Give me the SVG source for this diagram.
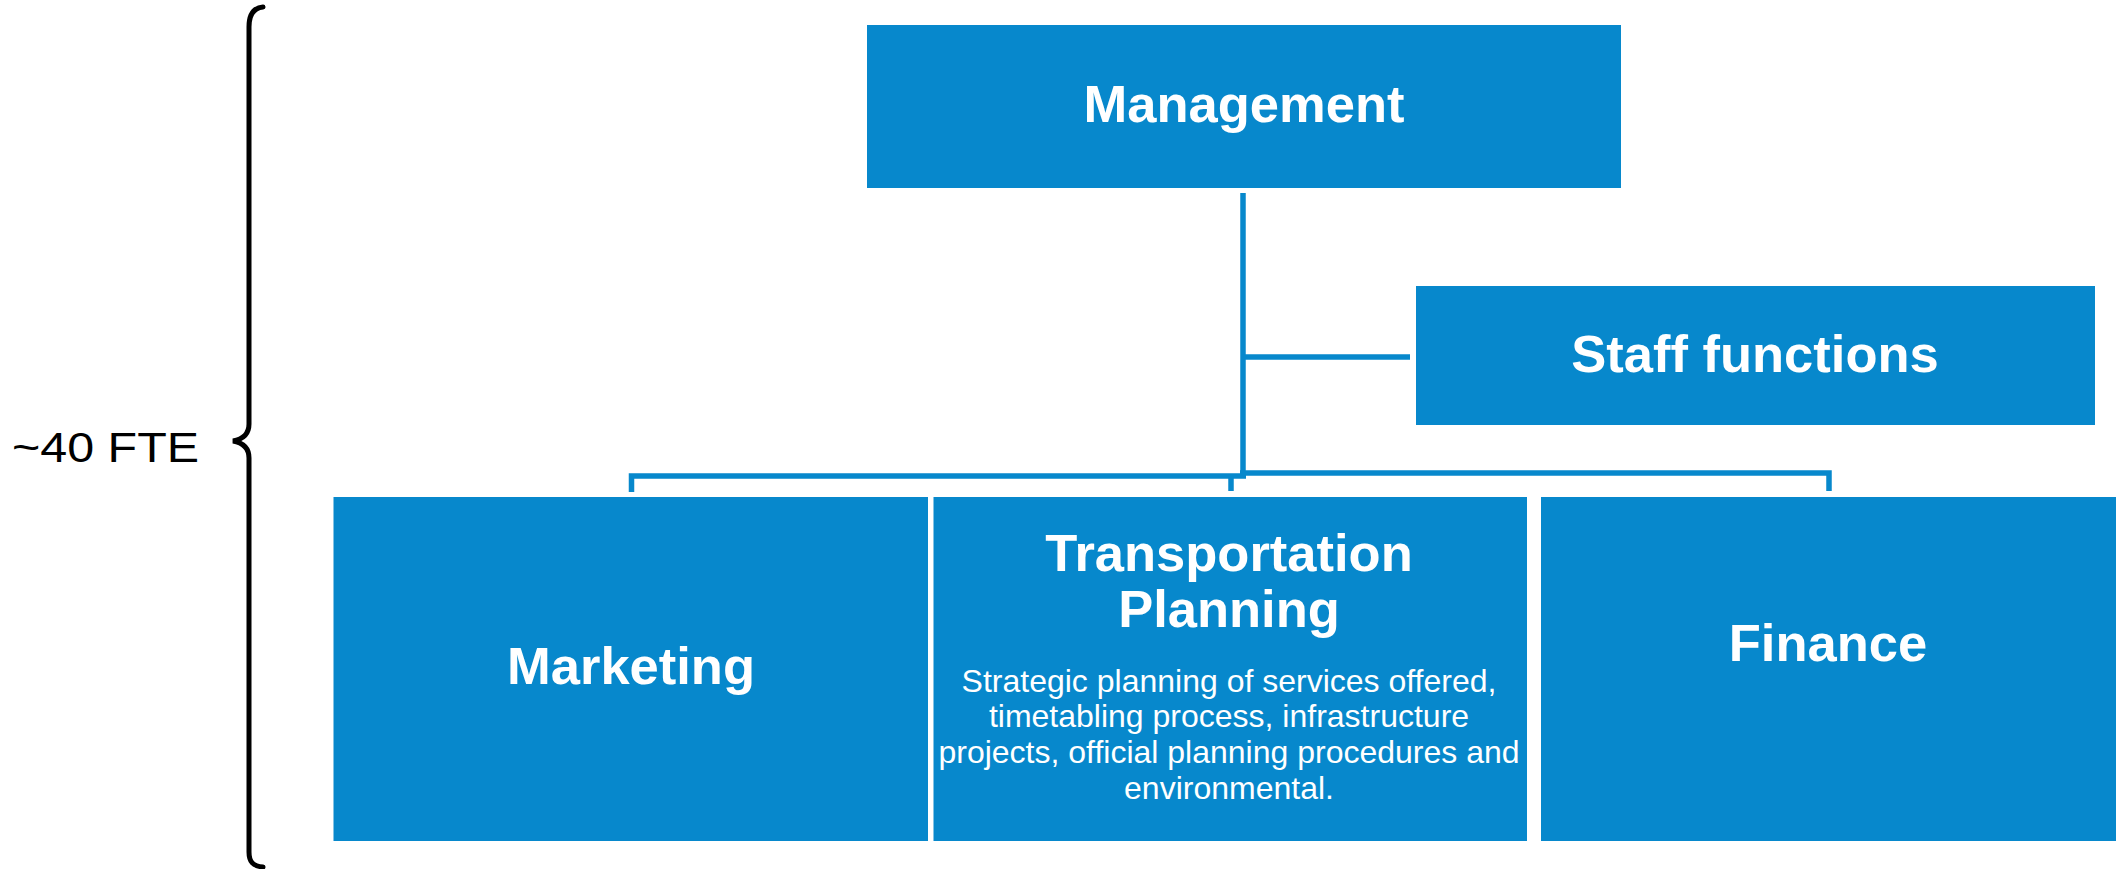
<svg xmlns="http://www.w3.org/2000/svg" width="2127" height="869" viewBox="0 0 2127 869">
  <style>
    .box { fill: #0788cc; }
    .title { font-family: "Liberation Sans", Arial, sans-serif; font-weight: bold; font-size: 52.5px; fill: #ffffff; text-anchor: middle; }
    .desc { font-family: "Liberation Sans", Arial, sans-serif; font-size: 32px; fill: #ffffff; text-anchor: middle; }
    .conn { fill: none; stroke: #0788cc; stroke-width: 5.5; }
    .brace { fill: none; stroke: #000000; stroke-width: 5; stroke-linecap: round; }
    .label { font-family: "Liberation Sans", Arial, sans-serif; font-size: 43px; fill: #000000; }
  </style>
  <rect width="2127" height="869" fill="#ffffff"/>

  <g id="connectors">
    <path class="conn" d="M1243,193 V476"/>
    <path class="conn" d="M1243,357 H1410"/>
    <path class="conn" d="M631.5,492 V476 H1246"/>
    <path class="conn" d="M1240,473 H1829 V491"/>
    <path class="conn" d="M1231,476 V491"/>
  </g>

  <g id="brace-fte">
    <path class="brace" d="M263,7 C253,8 249,15 249,27 L249,424 C249,433 244,439 233,441 C244,443 249,449 249,458 L249,852 C249,862 253,866 263,867"/>
    <text class="label" x="12" y="462" textLength="187" lengthAdjust="spacingAndGlyphs">~40 FTE</text>
  </g>

  <g id="management">
    <rect class="box" x="867" y="25" width="754" height="163"/>
    <text class="title" x="1244" y="122">Management</text>
  </g>

  <g id="staff-functions">
    <rect class="box" x="1416" y="286" width="679" height="139"/>
    <text class="title" x="1755" y="372">Staff functions</text>
  </g>

  <g id="marketing">
    <rect class="box" x="333.5" y="497" width="594.5" height="344"/>
    <text class="title" x="631" y="684">Marketing</text>
  </g>

  <g id="transportation-planning">
    <rect class="box" x="933.5" y="497" width="593.5" height="344"/>
    <text class="title" x="1229" y="571">Transportation</text>
    <text class="title" x="1229" y="627">Planning</text>
    <text class="desc" x="1229" y="692">Strategic planning of services offered,</text>
    <text class="desc" x="1229" y="727">timetabling process, infrastructure</text>
    <text class="desc" x="1229" y="763">projects, official planning procedures and</text>
    <text class="desc" x="1229" y="799">environmental.</text>
  </g>

  <g id="finance">
    <rect class="box" x="1541" y="497" width="575" height="344"/>
    <text class="title" x="1828" y="661">Finance</text>
  </g>
</svg>
